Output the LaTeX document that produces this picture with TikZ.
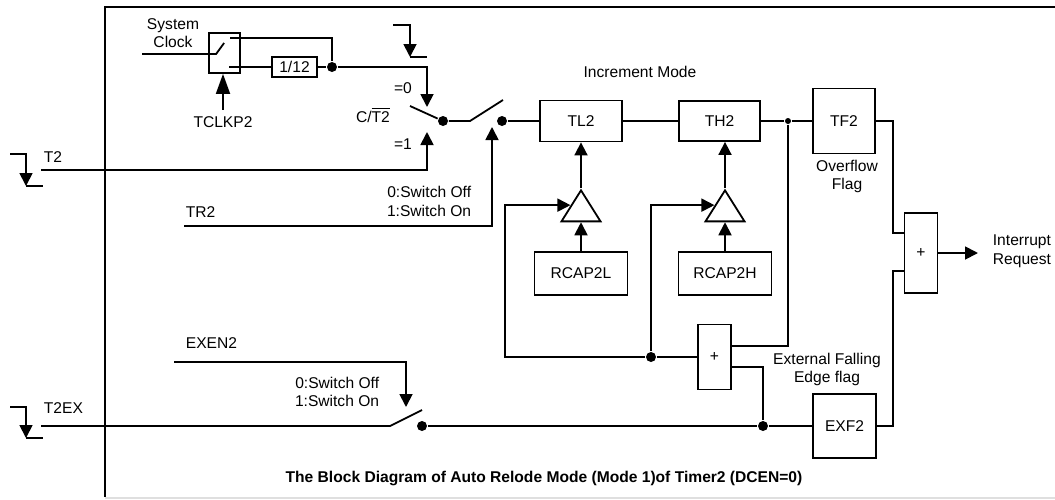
\documentclass[tikz,border=0pt]{standalone}
\usepackage{fontspec}
\setmainfont{Liberation Sans}
\usepackage{tikz}
\usetikzlibrary{arrows.meta,positioning,calc,shapes.geometric}
\tikzset{
  >=Triangle,
  every picture/.append style={line width=0.9pt},
  every node/.append style={font=\fontsize{7.8}{9.3}\selectfont},
}

\begin{document}
\begin{tikzpicture}[
  x=0.5pt, y=-0.5pt,
  reg/.style={rectangle, draw, inner sep=0pt, align=center},
  orgate/.style={reg, minimum width=16.5pt},
  buffer/.style={isosceles triangle, isosceles triangle stretches, shape border rotate=90, draw, inner sep=0pt, minimum width=19.5pt, minimum height=15.5pt, anchor=apex},
  dot/.style={circle, fill, inner sep=0pt, minimum size=5pt},
  smalldot/.style={dot, minimum size=3pt},
  txt/.style={inner sep=0pt, align=center},
  arrow/.style={-{Triangle[length=6.5pt,width=6.5pt]}},
  falledge/.style={-{Triangle[length=6.5pt,width=6.5pt]}},
  frame/.style={line width=1.4pt}
]
\useasboundingbox (0,0) rectangle (1055,499);

% Frame
\draw[frame] (1055,7) -- (105,7) -- (105,497);
\draw[gray!25, line width=1pt] (105,498) -- (1055,498);

% Clock source
\node[txt] (sysclk) at (173,33) {System\\Clock};
\node[reg, minimum width=15.5pt, minimum height=20pt] (clksw) at (224.5,53) {};
\node[reg, minimum width=22.5pt, minimum height=10pt] (div) at (294.5,67) {1/12};
\node[txt] (tclkp) at (223,122) {TCLKP2};
\node[dot] (dclk) at (332,67) {};
\coordinate (clkin) at (142,54);
\coordinate (clkup) at (230,38);
\coordinate (clklo) at (229,67);

\draw (clkin) -- (clksw.west |- clkin) -- ++(8,0) -- ++(8,-11);
\draw (clkup) -- (dclk |- clkup) -- (dclk);
\draw (clklo) -- (div);
\draw (div) -- (dclk);
\draw[-{Triangle[length=10pt,width=7pt]}, shorten <=3pt] (tclkp.north) -- (tclkp.north |- clksw.south);

% Timer / counter select
\draw[falledge] (393,25) -- (410,25) -- (410,57);
\draw (410,57) -- (427,57);
\node[txt] (eq0) at (403,88) {=0};
\node[txt] (eq1) at (403,144) {=1};
\node[txt] (ct) at (373,115) {C/$\overline{\mbox{T2}}$};
\node[dot] (dmode) at (443,121) {};
\coordinate (m0) at (427,107);
\coordinate (m1) at (427,132);
\coordinate (blade) at (410,106);
\draw[arrow] (dclk) -| (m0);
\draw (blade) -- (dmode);

% T2 input
\draw[falledge] (10,154) -- (26,154) -- (26,186);
\draw (26,186) -- (43,186);
\node[txt, anchor=west] (t2) at (43,157) {T2};
\coordinate (t2in) at (41,170);
\draw[arrow] (t2in) -| (m1);

% Run switch
\node[dot] (drun) at (502,121) {};
\coordinate (runpivot) at (470,121);
\coordinate (runtip) at (503,100);
\draw (dmode) -- (runpivot) -- (runtip);
\node[txt, anchor=west] (tr2) at (185,212) {TR2};
\node[txt, anchor=east, align=right] (trsw) at (472,201.5) {0:Switch Off\\1:Switch On};
\coordinate (tr2in) at (184,226);
\coordinate (rtip) at (492,127);
\draw[arrow] (tr2in) -| (rtip);

% Counter registers
\node[reg, minimum width=41pt, minimum height=20.5pt] (tl2) at (581,121) {TL2};
\node[reg, minimum width=40.5pt, minimum height=20pt] (th2) at (719.5,121) {TH2};
\node[txt] (incmode) at (640,72) {Increment Mode};
\node[reg, minimum width=31pt, minimum height=32.5pt] (tf2) at (844,121) {TF2};
\node[smalldot] (dtf) at (788,121) {};
\node[txt] (ovf) at (847,176.5) {Overflow\\Flag};
\draw (drun) -- (tl2);
\draw (tl2) -- (th2);
\draw (th2) -- (dtf) -- (tf2);

% Reload
\node[buffer] (buf1) at (581,188) {};
\node[buffer] (buf2) at (725,188) {};
\node[reg, minimum width=46.5pt, minimum height=21.5pt] (rcap2l) at (581,273.5) {RCAP2L};
\node[reg, minimum width=46.5pt, minimum height=21.5pt] (rcap2h) at (725,273.5) {RCAP2H};
\draw[arrow] (buf1.apex) -- (tl2.south);
\draw[arrow] (buf2.apex) -- (buf2.apex |- th2.south);
\draw[arrow] (rcap2l) -- (buf1.lower side);
\draw[arrow] (rcap2h) -- (buf2.lower side);

\node[orgate, minimum height=32.5pt] (relor) at (714.5,357) {+};
\node[dot] (dreload) at (651,357) {};
\coordinate (lp) at (505,357);
\draw[arrow] (relor) -- (dreload) -- (lp) |- (buf1.left side);
\draw[arrow] (dreload) |- (buf2.left side);
\draw (dtf) |- ($(relor.east)+(0,-11)$);

% External input
\node[txt, anchor=west] (exen) at (185,343) {EXEN2};
\coordinate (exenin) at (174,362);
\coordinate (etip) at (406,407);
\draw[arrow] (exenin) -| (etip);
\node[txt, anchor=east, align=right] (exsw) at (380,392) {0:Switch Off\\1:Switch On};

\draw[falledge] (10,407) -- (26,407) -- (26,438);
\draw (26,438) -- (43,438);
\node[txt, anchor=west] (t2ex) at (43,408) {T2EX};
\coordinate (t2exin) at (41,426);
\coordinate (expivot) at (390,426);
\coordinate (exblade) at (422,410);
\node[dot] (dexsw) at (422,426) {};
\node[dot] (dexf) at (763,426) {};
\node[reg, minimum width=31.5pt, minimum height=32pt] (exf2) at (844.5,426) {EXF2};
\node[txt] (exflag) at (827,369.5) {External Falling\\Edge flag};
\draw (t2exin) -- (expivot) -- (exblade);
\draw (dexsw) -- (dexf) -- (exf2);
\draw ($(relor.east)+(0,10)$) -| (dexf);

% Interrupt
\node[orgate, minimum height=40pt] (intor) at (921,253) {+};
\node[txt, anchor=west, align=left] (irq) at (992,251.5) {Interrupt\\Request};
\coordinate (irqtip) at (978,253);
\draw (tf2.east) -- ++(17,0) |- ($(intor.west)+(0,-20)$);
\draw (exf2.east) -- ++(16,0) |- ($(intor.west)+(0,18)$);
\draw[arrow] (intor) -- (irqtip);

% Caption
\node[txt, font=\fontsize{7.8}{9.3}\selectfont\bfseries] (title) at (544,478) {The Block Diagram of Auto Relode Mode (Mode 1)of Timer2 (DCEN=0)};

\end{tikzpicture}
\end{document}
